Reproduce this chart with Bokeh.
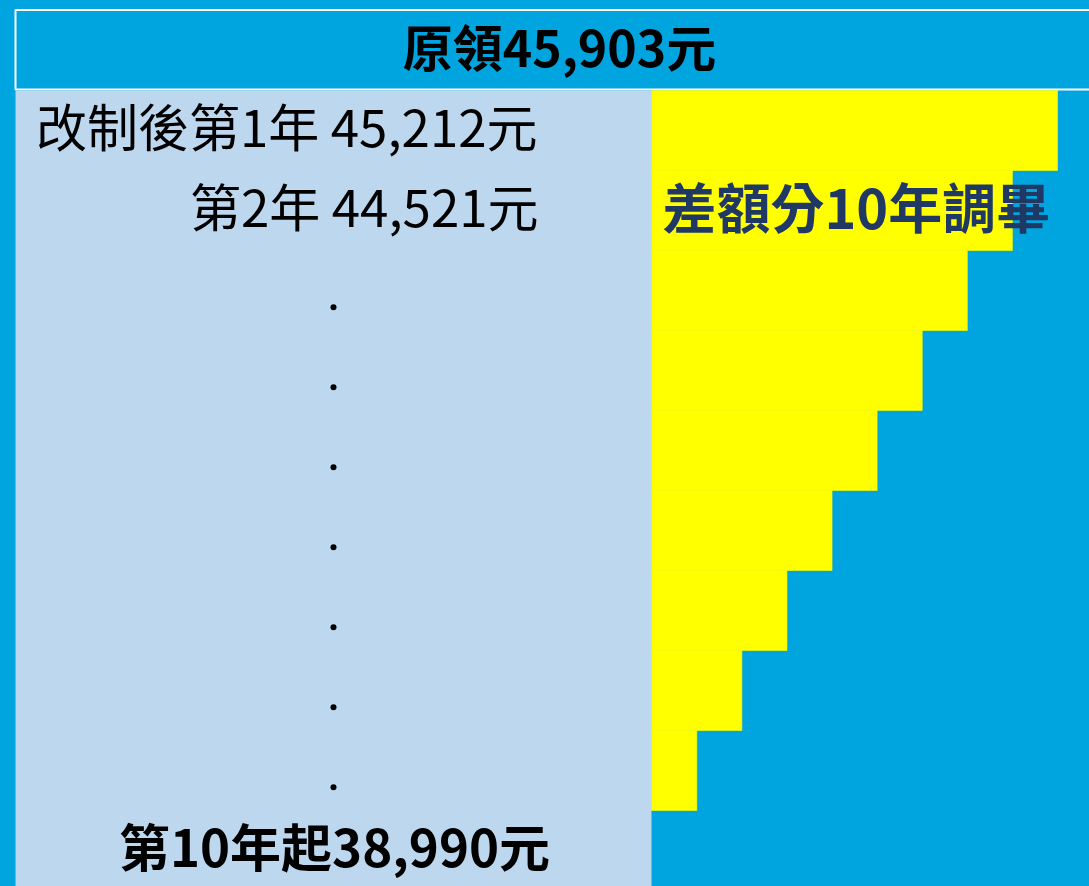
from bokeh.plotting import figure
from bokeh.models import Range1d, GlobalInlineStyleSheet
from bokeh.core.properties import value
from bokeh.embed import file_html
from bokeh.resources import INLINE

# ---- data ----
original_amount = 45903
final_amount = 38990
years = [1, 2, 3, 4, 5, 6, 7, 8, 9]
amounts = [45212, 44521, 43830, 43139, 42448, 41757, 41066, 40375, 39684]
final_year = 10
label_year1 = "改制後第1年 45,212元"
label_year2 = "第2年 44,521元"
label_top = "原領45,903元"
label_final = "第10年起38,990元"
label_diff = "差額分10年調畢"

BLUE = "#00A5DF"
PANEL = "#BDD7EE"
YELLOW = "#FFFF00"
NAVY = "#1F3864"
FONT = value("Noto Sans CJK TC")

W, H = 1089, 886
OFF = 0  # page offset of the figure
# x axis in money units: 0.06525 px per yuan, final amount at reference pixel 651
PX = 0.06525
x0 = final_amount - (651 - OFF) / PX
x1 = x0 + W / PX
# y axis in rows: 80 px per row, row 1 top at reference pixel 90
y_top = 0.5 + (OFF - 90) / 80
y_bot = y_top + H / 80
TY = -0.065  # text vertical nudge (rows)


def rx(ref_px):
    return final_amount + (ref_px - 651) / PX


def ry(ref_px):
    return 0.5 + (ref_px - 90) / 80


p = figure(width=W, height=H, output_backend="svg", toolbar_location=None,
           x_range=Range1d(x0, x1), y_range=Range1d(y_bot, y_top),
           min_border=0, background_fill_color=BLUE, border_fill_color=BLUE,
           outline_line_color=None)
p.axis.visible = False
p.grid.visible = False
p.stylesheets = [GlobalInlineStyleSheet(
    css="html,body{margin:0;padding:0;background:%s;overflow:hidden;}" % BLUE)]

# top bar (original amount) with white outline
p.quad(left=rx(15), right=rx(1120), top=ry(9.5), bottom=ry(89), fill_color=BLUE,
       line_color="white", line_width=2)

# light panel
p.quad(left=rx(15), right=final_amount, top=0.5, bottom=y_bot + 1,
       fill_color=PANEL, line_color=None)

# yellow staircase: difference above final amount
p.hbar(y=years, left=final_amount, right=amounts, height=1.0,
       fill_color=YELLOW, line_color=YELLOW, line_width=0.6)

# texts
p.text(x=[rx(559)], y=[0.0 + TY], text=[label_top], text_font=FONT,
       text_font_size="50px", text_font_style="bold", text_color="black",
       text_align="center", text_baseline="middle")
p.text(x=[rx(537), rx(538)], y=[1 + TY, 2 + TY], text=[label_year1, label_year2],
       text_font=FONT, text_font_size="51px", text_color="black",
       text_align="right", text_baseline="middle")
p.scatter(x=[rx(333)] * 7, y=[y + 0.21 for y in years[2:]], size=6,
          fill_color="black", line_color=None)
p.text(x=[rx(334)], y=[final_year + TY], text=[label_final], text_font=FONT,
       text_font_size="51px", text_font_style="bold", text_color="black",
       text_align="center", text_baseline="middle")
p.text(x=[rx(662)], y=[2 + TY], text=[label_diff], text_font=FONT,
       text_font_size="54px", text_font_style="bold", text_color=NAVY,
       text_align="left", text_baseline="middle")

open("out.html", "w").write(file_html(p, INLINE))
